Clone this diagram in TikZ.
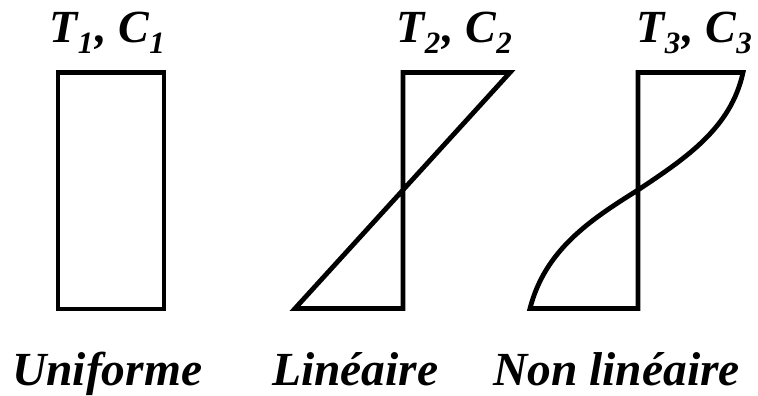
\documentclass[tikz,border=0pt]{standalone}
\usepackage{fontspec}
\setmainfont{Liberation Serif}
\newcommand{\sbs}[1]{\raisebox{-11pt}{\fontsize{31}{31}\selectfont #1}}
\newcommand{\tclbl}[1]{T\kern0.5pt\sbs{#1}\kern2pt, C\kern0.5pt\sbs{#1}}
\begin{document}
\begin{tikzpicture}[x=1pt,y=-1pt,
  shape line/.style={line width=4.8pt},
  toplabel/.style={anchor=base west,inner sep=0pt,font=\fontsize{46}{46}\selectfont\bfseries\itshape},
  botlabel/.style={anchor=base west,inner sep=0pt,font=\fontsize{47.5}{47.5}\selectfont\bfseries\itshape}]
\useasboundingbox (0,0) rectangle (758,396);
% coordinates
\coordinate (a1) at (58,72.5);
\coordinate (a2) at (164,309);
\coordinate (b1) at (295,308.5);
\coordinate (b2) at (403,308.5);
\coordinate (b3) at (403,72.5);
\coordinate (b4) at (510,72.5);
\coordinate (c1) at (530,308.5);
\coordinate (c2) at (638,308.5);
\coordinate (c3) at (638,72.5);
\coordinate (c4) at (743,72.5);
\coordinate (cm) at (638,190);
% shapes
\draw[shape line] (a1) rectangle (a2);
\draw[shape line] (b1) -- (b2) -- (b3) -- (b4) -- cycle;
\draw[shape line] (c1) -- (c2) -- (c3) -- (c4)
  .. controls (731,128) and (686,158) .. (cm)
  .. controls (590,220) and (545,250) .. (c1) -- cycle;
% labels
\node[toplabel] (t1) at (49,43) {\tclbl{1}};
\node[toplabel] (t2) at (396,43) {\tclbl{2}};
\node[toplabel] (t3) at (636,43) {\tclbl{3}};
\node[botlabel] (u) at (12,385) {Uniforme};
\node[botlabel] (l) at (272,385) {Linéaire};
\node[botlabel] (n) at (493,385) {Non linéaire};
\end{tikzpicture}
\end{document}
